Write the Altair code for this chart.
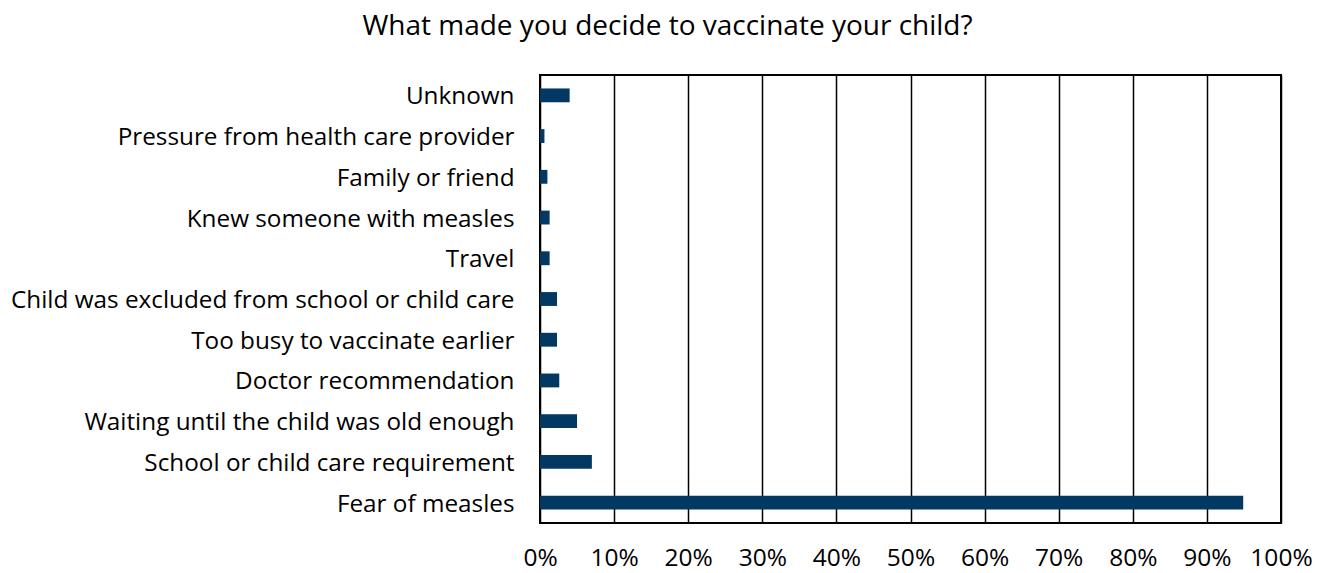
import altair as alt
import pandas as pd

# Reasons parents gave for vaccinating, share of respondents (%)
reasons = [
    "Unknown",
    "Pressure from health care provider",
    "Family or friend",
    "Knew someone with measles",
    "Travel",
    "Child was excluded from school or child care",
    "Too busy to vaccinate earlier",
    "Doctor recommendation",
    "Waiting until the child was old enough",
    "School or child care requirement",
    "Fear of measles",
]
shares = [4.0, 0.6, 1.0, 1.3, 1.3, 2.3, 2.3, 2.6, 5.0, 7.0, 94.9]

df = pd.DataFrame({"reason": reasons, "share": [s / 100 for s in shares]})

FONT = "Open Sans"
BAR = "#023861"

chart = (
    alt.Chart(df)
    .mark_bar(color=BAR)
    .encode(
        x=alt.X(
            "share:Q",
            scale=alt.Scale(domain=[0, 1], nice=False),
            axis=alt.Axis(
                format=".0%",
                values=[i / 10 for i in range(11)],
                title=None,
                grid=True,
                gridColor="#000000",
                gridWidth=1.5,
                domain=False,
                ticks=False,
                labelFlush=False,
                labelOverlap=False,
                labelPadding=23,
                labelFontSize=24.5,
                labelColor="#000000",
                labelFont=FONT,
            ),
        ),
        y=alt.Y(
            "reason:N",
            sort=reasons,
            scale=alt.Scale(paddingInner=0.66, paddingOuter=0.33),
            axis=alt.Axis(
                title=None,
                domain=False,
                ticks=False,
                labelPadding=26,
                labelOffset=2,
                labelFontSize=24.3,
                labelColor="#000000",
                labelFont=FONT,
                labelLimit=600,
            ),
        ),
    )
    .properties(
        width=741,
        height=448,
        title=alt.TitleParams(
            "What made you decide to vaccinate your child?",
            font=FONT,
            fontSize=28,
            fontWeight="normal",
            color="#000000",
            anchor="middle",
            dx=-243,
            offset=34,
        ),
        padding={"left": 540, "top": 75, "right": 46, "bottom": 50},
        autosize=alt.AutoSizeParams(type="none"),
    )
    .configure_view(stroke="#000000", strokeWidth=2)
)

chart.save("out.html", embed_options={"renderer": "svg", "actions": False})
